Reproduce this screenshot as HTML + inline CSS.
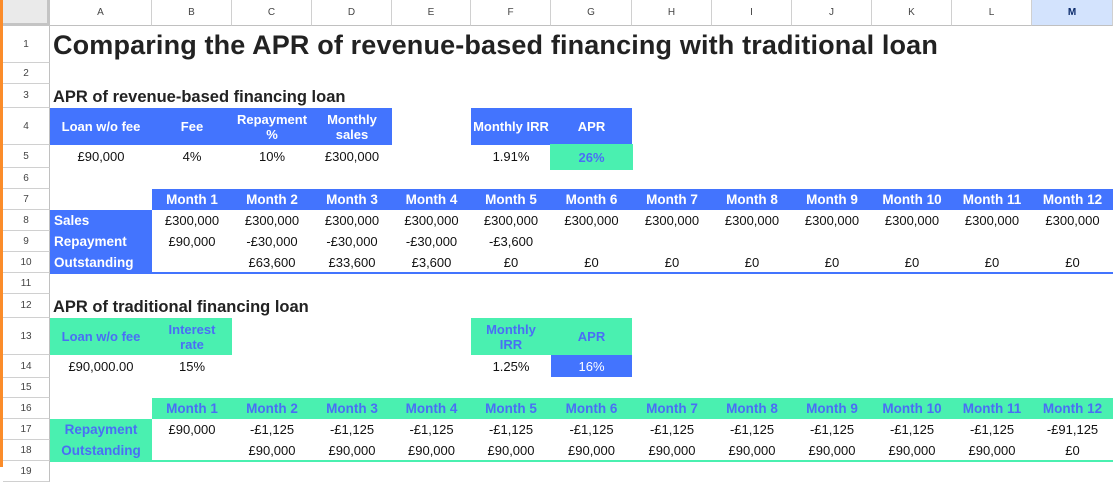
<!DOCTYPE html>
<html><head><meta charset="utf-8"><style>
*{margin:0;padding:0;box-sizing:border-box}
body{width:1113px;height:467px;overflow:hidden;background:#fff;position:relative;font-family:"Liberation Sans",Arial,sans-serif;color:#111}
.a{position:absolute}
.c{position:absolute;display:flex;align-items:center;justify-content:center;text-align:center;font-size:13px;line-height:15px}
.b{background:#4374fe;color:#fff;font-weight:bold;font-size:13px}
.g{background:#4af0b0;color:#4a6ef5;font-weight:bold;font-size:13px}
.l{justify-content:flex-start;padding-left:4px}
.rh{position:absolute;left:3px;width:47px;border-bottom:1px solid #d0d0d0;border-right:1px solid #c0c0c0;font-size:10px;color:#444;display:flex;align-items:center;justify-content:center}
.ch{position:absolute;top:0;height:26px;border-right:1px solid #d0d0d0;border-bottom:1px solid #c0c0c0;font-size:10px;color:#444;display:flex;align-items:center;justify-content:center}
</style></head><body>
<div class="a" style="left:0;top:0;width:3px;height:467px;background:#fb8c2a"></div>
<div class="a" style="left:3px;top:0;width:47px;height:26px;background:#eaeaea;border-right:3px solid #c4c4c4;border-bottom:3px solid #c4c4c4"></div>
<div class="ch" style="left:50px;width:102px">A</div>
<div class="ch" style="left:152px;width:80px">B</div>
<div class="ch" style="left:232px;width:80px">C</div>
<div class="ch" style="left:312px;width:80px">D</div>
<div class="ch" style="left:392px;width:79px">E</div>
<div class="ch" style="left:471px;width:80px">F</div>
<div class="ch" style="left:551px;width:81px">G</div>
<div class="ch" style="left:632px;width:80px">H</div>
<div class="ch" style="left:712px;width:80px">I</div>
<div class="ch" style="left:792px;width:80px">J</div>
<div class="ch" style="left:872px;width:80px">K</div>
<div class="ch" style="left:952px;width:80px">L</div>
<div class="ch" style="left:1032px;width:81px;background:#d3e3fd;color:#0b2a6a;font-weight:bold">M</div>
<div class="rh" style="top:26px;height:37px">1</div>
<div class="rh" style="top:63px;height:21px">2</div>
<div class="rh" style="top:84px;height:24px">3</div>
<div class="rh" style="top:108px;height:37px">4</div>
<div class="rh" style="top:145px;height:23px">5</div>
<div class="rh" style="top:168px;height:21px">6</div>
<div class="rh" style="top:189px;height:21px">7</div>
<div class="rh" style="top:210px;height:21px">8</div>
<div class="rh" style="top:231px;height:21px">9</div>
<div class="rh" style="top:252px;height:21px">10</div>
<div class="rh" style="top:273px;height:21px">11</div>
<div class="rh" style="top:294px;height:24px">12</div>
<div class="rh" style="top:318px;height:37px">13</div>
<div class="rh" style="top:355px;height:23px">14</div>
<div class="rh" style="top:378px;height:20px">15</div>
<div class="rh" style="top:398px;height:21px">16</div>
<div class="rh" style="top:419px;height:21px">17</div>
<div class="rh" style="top:440px;height:21px">18</div>
<div class="rh" style="top:461px;height:21px">19</div>

<div class="a" style="left:53px;top:30px;font-size:27px;letter-spacing:0.15px;font-weight:bold;color:#222;white-space:nowrap;line-height:30px">Comparing the APR of revenue-based financing with traditional loan</div>
<div class="a" style="left:53px;top:87px;font-size:16.5px;font-weight:bold;color:#222;white-space:nowrap;line-height:20px">APR of revenue-based financing loan</div>
<div class="a" style="left:53px;top:297px;font-size:16.5px;font-weight:bold;color:#222;white-space:nowrap;line-height:20px">APR of traditional financing loan</div>

<div class="c b" style="left:50px;top:108px;width:102px;height:37px">Loan w/o fee</div>
<div class="c b" style="left:152px;top:108px;width:80px;height:37px">Fee</div>
<div class="c b" style="left:232px;top:108px;width:80px;height:37px">Repayment<br>%</div>
<div class="c b" style="left:312px;top:108px;width:80px;height:37px">Monthly<br>sales</div>
<div class="c b" style="left:471px;top:108px;width:80px;height:37px">Monthly IRR</div>
<div class="c b" style="left:551px;top:108px;width:81px;height:37px">APR</div>
<div class="c" style="left:50px;top:145px;width:102px;height:23px">£90,000</div>
<div class="c" style="left:152px;top:145px;width:80px;height:23px">4%</div>
<div class="c" style="left:232px;top:145px;width:80px;height:23px">10%</div>
<div class="c" style="left:312px;top:145px;width:80px;height:23px">£300,000</div>
<div class="c" style="left:471px;top:145px;width:80px;height:23px">1.91%</div>
<div class="c g" style="left:550px;top:144px;width:83px;height:26px">26%</div>

<div class="a" style="left:152px;top:189px;width:961px;height:21px;background:#4374fe"></div>
<div class="a" style="left:50px;top:210px;width:102px;height:63px;background:#4374fe"></div>
<div class="a" style="left:50px;top:272px;width:1063px;height:2px;background:#4374fe"></div>
<div class="c b l" style="left:50px;top:210px;width:102px;height:21px;font-size:13.5px">Sales</div>
<div class="c b l" style="left:50px;top:231px;width:102px;height:21px;font-size:13.5px">Repayment</div>
<div class="c b l" style="left:50px;top:252px;width:102px;height:21px;font-size:13.5px">Outstanding</div>

<div class="c g" style="left:50px;top:318px;width:102px;height:37px">Loan w/o fee</div>
<div class="c g" style="left:152px;top:318px;width:80px;height:37px">Interest<br>rate</div>
<div class="c g" style="left:471px;top:318px;width:80px;height:37px">Monthly<br>IRR</div>
<div class="c g" style="left:551px;top:318px;width:81px;height:37px">APR</div>
<div class="c" style="left:50px;top:355px;width:102px;height:23px">£90,000.00</div>
<div class="c" style="left:152px;top:355px;width:80px;height:23px">15%</div>
<div class="c" style="left:471px;top:355px;width:80px;height:23px">1.25%</div>
<div class="c b" style="left:551px;top:355px;width:81px;height:22px;font-weight:normal;font-size:13px">16%</div>

<div class="a" style="left:152px;top:398px;width:961px;height:21px;background:#4af0b0"></div>
<div class="a" style="left:50px;top:419px;width:102px;height:42px;background:#4af0b0"></div>
<div class="a" style="left:50px;top:460px;width:1063px;height:2px;background:#4af0b0"></div>
<div class="c g" style="left:50px;top:419px;width:102px;height:21px;font-size:13.5px">Repayment</div>
<div class="c g" style="left:50px;top:440px;width:102px;height:21px;font-size:13.5px">Outstanding</div>

<div id="grid"></div>
<script>
var L=[152,232,312,392,471,551,632,712,792,872,952,1032],W=[80,80,80,79,80,81,80,80,80,80,80,81];
var h='';
function cell(i,top,t,cls,fs){h+='<div class="c '+(cls||'')+'" style="left:'+L[i]+'px;top:'+top+'px;width:'+W[i]+'px;height:21px'+(fs?';font-size:'+fs:'')+'">'+t+'</div>';}
var rep=['£90,000','-£30,000','-£30,000','-£30,000','-£3,600','','','','','','',''];
var out=['','£63,600','£33,600','£3,600','£0','£0','£0','£0','£0','£0','£0','£0'];
for(var i=0;i<12;i++){
cell(i,189,'Month '+(i+1),'b','13.5px');
cell(i,210,'£300,000');
cell(i,231,rep[i]);
cell(i,252,out[i]);
cell(i,398,'Month '+(i+1),'g','13.5px');
cell(i,419,i==0?'£90,000':(i==11?'-£91,125':'-£1,125'));
cell(i,440,i==0?'':(i==11?'£0':'£90,000'));
}
document.getElementById('grid').innerHTML=h;
</script>
</body></html>
